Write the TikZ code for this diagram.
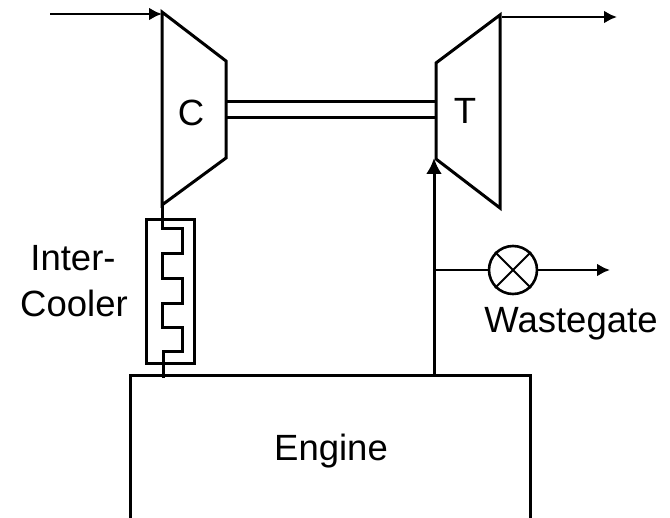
\documentclass[tikz,border=0pt]{standalone}
\usepackage{fontspec}
\setmainfont{Liberation Sans}
\usetikzlibrary{arrows.meta,positioning}
\tikzset{
  pipe/.style={line width=3pt, line join=miter},
  flow/.style={line width=2.6pt, -{Latex[length=13pt,width=13pt]}},
  label/.style={inner sep=0pt, font=\fontsize{36.5}{42}\selectfont, text=black},
  valve/.style={circle, draw, line width=2.6pt, minimum size=48pt, inner sep=0pt}
}
\begin{document}
\begin{tikzpicture}[>=Latex, x=1pt, y=-1pt]
      \useasboundingbox (0,0) rectangle (670,518);
      % compressor and turbine
      \coordinate (inlet) at (50,14);
      \coordinate (compin) at (162,14);
      \coordinate (turbout) at (502,17);
      \coordinate (exhaust) at (617,17);
      \draw[pipe] (162,12) -- (226,61) -- (226,158) -- (162,205) -- cycle;
      \draw[pipe] (436,63) -- (500,15) -- (500,208) -- (436,159) -- cycle;
      \draw[flow] (inlet) -- (compin);
      \draw[flow] (turbout) -- (exhaust);
      \node[label] (compressor) at (191,113) {C};
      \node[label] (turbine) at (465,111) {T};
      % shaft
      \draw[pipe] (226,102) -- (436,102);
      \draw[pipe] (226,118) -- (436,118);
      % intercooler
      \draw[pipe] (146,220) rectangle (194,364);
      \draw[pipe] (162,205) -- (162,229) -- (182,229) -- (182,254) -- (162,254) -- (162,279)
        -- (182,279) -- (182,304) -- (162,304) -- (162,328) -- (182,328) -- (182,352)
        -- (163,352) -- (163,378);
      \node[label] (inter) at (73,258) {Inter-};
      \node[label] (cooler) at (74,303) {Cooler};
      % engine, cut off by the lower edge
      \draw[pipe] (130,518) -- (130,376) -- (530,376) -- (530,518);
      \node[label] (engine) at (331,451) {Engine};
      % exhaust and wastegate
      \coordinate (exhtop) at (434,376);
      \coordinate (turbin) at (434,158);
      \coordinate (branch) at (434,270);
      \coordinate (gateout) at (610,270);
      \draw[line width=3pt, -{Latex[length=16pt,width=16pt]}] (exhtop) -- (turbin);
      \node[valve] (gate) at (513,270) {};
      \draw[line width=2pt] (gate.45) -- (gate.225);
      \draw[line width=2pt] (gate.135) -- (gate.315);
      \draw[line width=2.6pt] (branch) -- (gate);
      \draw[flow] (gate) -- (gateout);
      \node[label] (wastegate) at (571,324) {Wastegate};
    \end{tikzpicture}
\end{document}
